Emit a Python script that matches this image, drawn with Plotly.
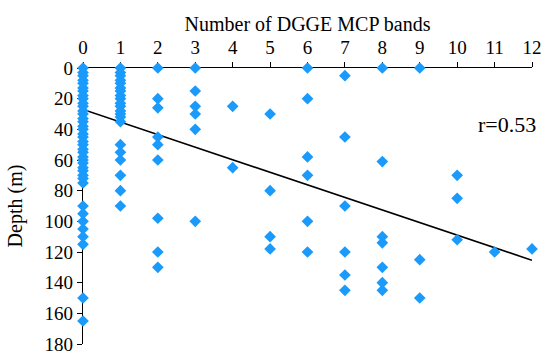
import plotly.graph_objects as go

# Number of DGGE MCP bands (x) and depth in m (y)
bands_0 = [0] * 38
depth_0 = [0, 3, 5, 8, 10, 13, 15, 18, 20, 23, 25, 28, 30, 33, 35, 38, 40, 43, 45, 48,
           50, 53, 55, 58, 60, 62, 65, 67, 70, 72, 75,
           90, 95, 100, 105, 110, 115, 150]
bands_0b = [0]
depth_0b = [165]
bands_1 = [1] * 21
depth_1 = [0, 3, 5, 8, 10, 13, 15, 18, 20, 23, 25, 28, 30, 32, 35,
           50, 55, 60, 70, 80, 90]
bands_2 = [2] * 9
depth_2 = [0, 20, 26, 45, 50, 60, 98, 120, 130]
bands_3 = [3] * 6
depth_3 = [0, 15, 25, 30, 40, 100]
bands_4 = [4, 4]
depth_4 = [25, 65]
bands_5 = [5] * 4
depth_5 = [30, 80, 110, 118]
bands_6 = [6] * 6
depth_6 = [0, 20, 58, 70, 100, 120]
bands_7 = [7] * 6
depth_7 = [5, 45, 90, 120, 135, 145]
bands_8 = [8] * 7
depth_8 = [0, 61, 110, 114, 130, 140, 145]
bands_9 = [9] * 3
depth_9 = [0, 125, 150]
bands_10 = [10] * 3
depth_10 = [70, 85, 112]
bands_11 = [11]
depth_11 = [120]
bands_12 = [12]
depth_12 = [118]

fit_x = [0, 12]
fit_intercept = 27
fit_slope = 8.2
r_label = "r=0.53"

x_ticks = list(range(0, 13))
y_ticks = list(range(0, 181, 20))

xs = (bands_0 + bands_0b + bands_1 + bands_2 + bands_3 + bands_4 + bands_5 + bands_6
      + bands_7 + bands_8 + bands_9 + bands_10 + bands_11 + bands_12)
ys = (depth_0 + depth_0b + depth_1 + depth_2 + depth_3 + depth_4 + depth_5 + depth_6
      + depth_7 + depth_8 + depth_9 + depth_10 + depth_11 + depth_12)

font = "Liberation Serif"
fig = go.Figure()
fig.add_trace(go.Scatter(
    x=fit_x, y=[fit_intercept + fit_slope * v for v in fit_x],
    mode="lines", line=dict(color="black", width=1.6), cliponaxis=False,
    showlegend=False, hoverinfo="skip"))
fig.add_trace(go.Scatter(
    x=xs, y=ys, mode="markers",
    marker=dict(symbol="diamond", size=9, color="#1a9bfc", line=dict(width=0)),
    cliponaxis=False, showlegend=False))

fig.add_annotation(x=12, y=37, text=r_label, showarrow=False, xanchor="right",
                   yanchor="middle", xshift=6,
                   font=dict(family=font, size=22, color="black"))

fig.update_layout(
    width=545, height=354,
    margin=dict(l=83, r=13, t=68, b=10),
    paper_bgcolor="white", plot_bgcolor="white",
    font=dict(family=font, size=20, color="black"),
    xaxis=dict(
        side="top", range=[0, 12], tickvals=x_ticks, ticks="outside", ticklen=5,
        tickcolor="black", showline=True, linecolor="black", linewidth=1.2,
        showgrid=False, zeroline=False, layer="below traces", automargin=False,
        ticklabeloverflow="allow",
        title=dict(text="Number of DGGE MCP bands", font=dict(family=font, size=20), standoff=0),
        tickfont=dict(family=font, size=19)),
    yaxis=dict(
        range=[180, 0], tickvals=y_ticks, ticks="outside", ticklen=5,
        tickcolor="black", showline=True, linecolor="black", linewidth=1.2,
        showgrid=False, zeroline=False, layer="below traces", automargin=False,
        ticklabeloverflow="allow",
        title=dict(text="Depth (m)", font=dict(family=font, size=20), standoff=16),
        tickfont=dict(family=font, size=19)),
)

fig.write_html("out.html", config={"displayModeBar": False},
               post_script="document.body.style.margin='0px';")
